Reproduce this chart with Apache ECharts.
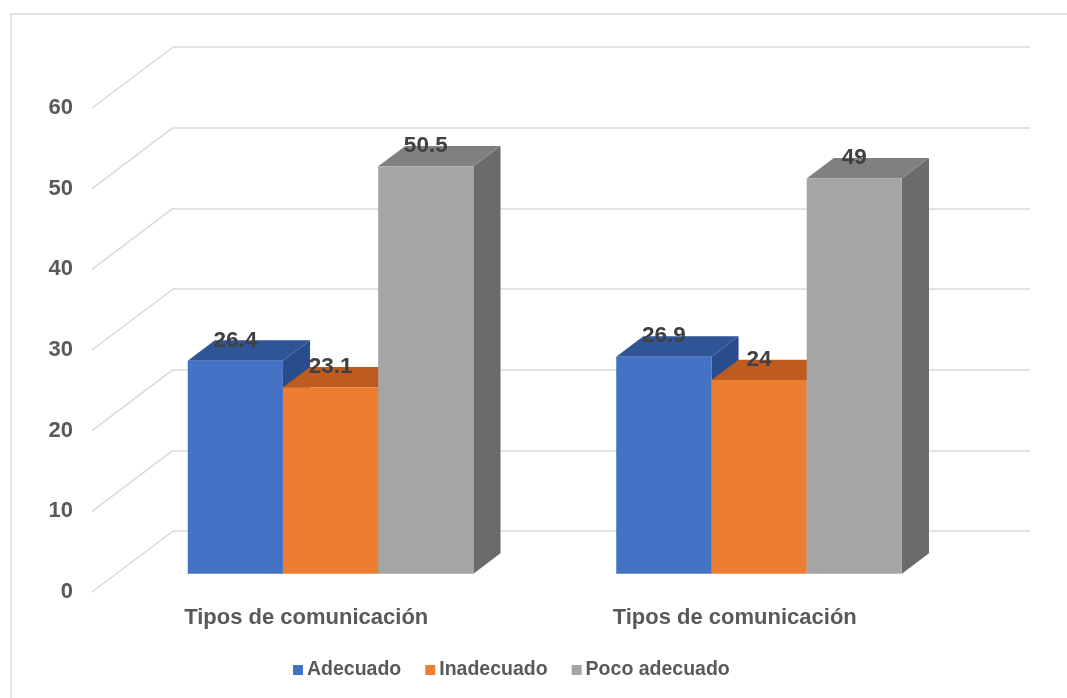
<!DOCTYPE html>
<html>
<head>
<meta charset="utf-8">
<script src="https://cdn.jsdelivr.net/npm/echarts@6/dist/echarts.min.js"></script>
<style>
  html, body { margin: 0; padding: 0; background: #ffffff; }
  #chart { width: 1067px; height: 698px; }
</style>
</head>
<body>
<div id="chart"></div>
<script>
// Chart data
const categories = ['Tipos de comunicación', 'Tipos de comunicación'];
const seriesNames = ['Adecuado', 'Inadecuado', 'Poco adecuado'];
const adecuado = [26.4, 26.9];
const inadecuado = [23.1, 24];
const pocoAdecuado = [50.5, 49];
const yMin = 0, yMax = 60, yStep = 10;
const yTicks = [0, 10, 20, 30, 40, 50, 60];

// Pseudo-3D projection: depth vector of the floor (front edge -> back wall)
const DEPTH = { x: 81, y: -61 };
const BAR_FRONT = 0.3;   // depth fraction of the bars' front face
const BAR_DEPTH = 0.335; // depth fraction occupied by a bar
const PLOT = { left: 92, top: 108, width: 857, height: 484 };

const palette = [
  { front: '#4472C4', top: '#2F5597', side: '#284C8C' },
  { front: '#ED7D31', top: '#BE5B1F', side: '#A54E1A' },
  { front: '#A5A5A5', top: '#808080', side: '#6B6B6B' }
];
const seriesValues = [adecuado, inadecuado, pocoAdecuado];

function planeGrid(f) {
  return {
    left: PLOT.left + DEPTH.x * f,
    top: PLOT.top + DEPTH.y * f,
    width: PLOT.width,
    height: PLOT.height
  };
}

const chart = echarts.init(document.getElementById('chart'), null, { renderer: 'canvas' });

const labelFont = 'Liberation Sans, Arial, sans-serif';
const bdx = DEPTH.x * BAR_DEPTH, bdy = DEPTH.y * BAR_DEPTH;

function barRenderer(sIdx) {
  return function (params, api) {
    const cat = api.value(0);
    const val = api.value(1);
    const topPt = api.coord([cat, val]);
    const basePt = api.coord([cat, yMin]);
    const band = api.size([1, 0])[0];
    const w = band * 0.2222;
    const cx = topPt[0] + (sIdx - 1) * w;
    const l = cx - w / 2, r = cx + w / 2;
    const t = topPt[1], b = basePt[1];
    const c = palette[sIdx];
    return {
      type: 'group',
      children: [
        { type: 'polygon', shape: { points: [[r, t], [r + bdx, t + bdy], [r + bdx, b + bdy], [r, b]] },
          style: { fill: c.side } },
        { type: 'polygon', shape: { points: [[l, t], [l + bdx, t + bdy], [r + bdx, t + bdy], [r, t]] },
          style: { fill: c.top } },
        { type: 'rect', shape: { x: l, y: t, width: w, height: b - t },
          style: { fill: c.front } },
        { type: 'text', z2: 100,
          style: { x: cx, y: t + bdy, text: String(val), align: 'center', verticalAlign: 'middle',
                   fill: '#404040', font: 'bold 22.5px ' + labelFont } }
      ]
    };
  };
}

const option = {
  animation: false,
  backgroundColor: '#ffffff',
  graphic: [{
    type: 'rect', silent: true, z: -10,
    shape: { x: 11, y: 14, width: 1100, height: 720 },
    style: { fill: 'none', stroke: '#d9d9d9', lineWidth: 1.5 }
  }],
  legend: {
    data: seriesNames,
    bottom: 13,
    left: 288,
    icon: 'rect',
    itemWidth: 10,
    itemHeight: 10,
    itemGap: 24,
    textStyle: { color: '#595959', fontSize: 19.5, fontWeight: 'bold', fontFamily: labelFont, padding: [0, 0, 0, -1] }
  },
  grid: [
    planeGrid(0),          // front edge: axis labels
    planeGrid(1),          // back wall: gridlines
    planeGrid(BAR_FRONT)   // bars' front face
  ],
  xAxis: [
    { gridIndex: 0, type: 'category', data: categories,
      axisLine: { show: false }, axisTick: { show: false },
      axisLabel: { margin: 15, color: '#595959', fontSize: 22, fontWeight: 'bold', fontFamily: labelFont } },
    { gridIndex: 1, type: 'category', data: categories, show: false },
    { gridIndex: 2, type: 'category', data: categories, show: false }
  ],
  yAxis: [
    { gridIndex: 0, type: 'value', min: yMin, max: yMax, interval: yStep,
      axisLine: { show: false }, axisTick: { show: false }, splitLine: { show: false },
      axisLabel: { margin: 19, color: '#595959', fontSize: 22, fontWeight: 'bold', fontFamily: labelFont } },
    { gridIndex: 1, type: 'value', min: yMin, max: yMax, interval: yStep,
      axisLine: { show: false }, axisTick: { show: false }, axisLabel: { show: false },
      splitLine: { show: true, lineStyle: { color: '#d9d9d9', width: 1.5 } } },
    { gridIndex: 2, type: 'value', min: yMin, max: yMax, interval: yStep, show: false }
  ],
  series: [
    {
      type: 'custom', name: 'walls', xAxisIndex: 0, yAxisIndex: 0, silent: true, z: 1,
      data: yTicks.map(v => [0, v]),
      renderItem: function (params, api) {
        const y = api.coord([0, api.value(1)])[1];
        const x = params.coordSys.x;
        return { type: 'line', shape: { x1: x, y1: y, x2: x + DEPTH.x, y2: y + DEPTH.y },
                 style: { stroke: '#d9d9d9', lineWidth: 1.5 } };
      }
    }
  ].concat(seriesNames.map((name, i) => ({
    type: 'custom', name: name, xAxisIndex: 2, yAxisIndex: 2, z: 2 + i,
    itemStyle: { color: palette[i].front },
    data: seriesValues[i].map((v, k) => [k, v]),
    renderItem: barRenderer(i)
  })))
};

chart.setOption(option);
</script>
</body>
</html>
